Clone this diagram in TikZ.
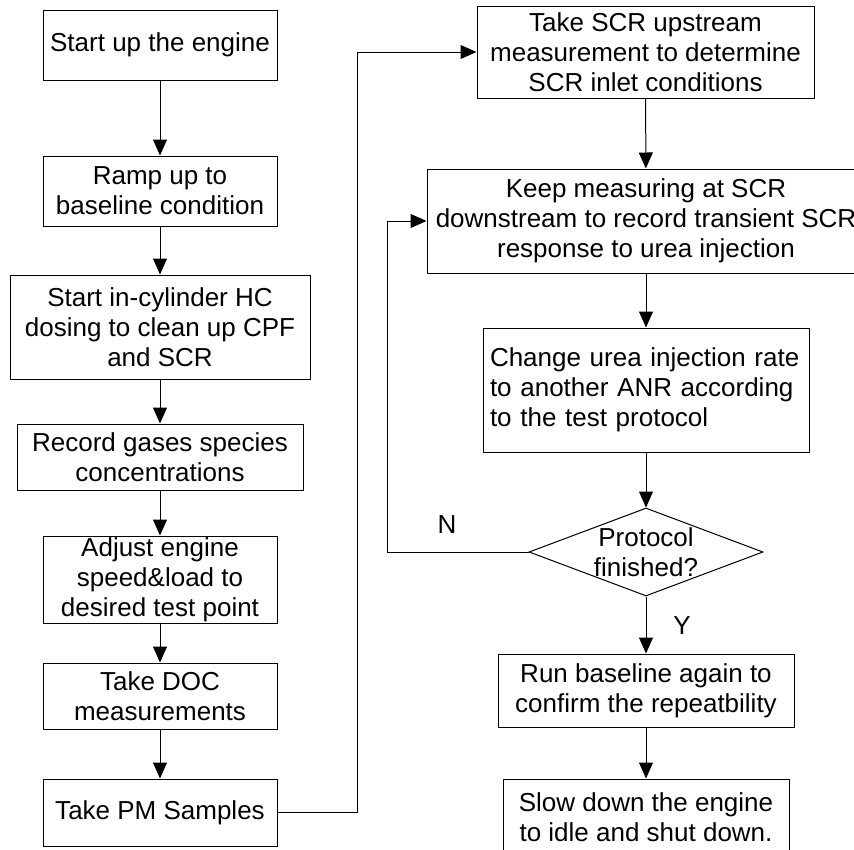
\documentclass[tikz,border=0pt]{standalone}
\usepackage{fontspec}
\setmainfont{Liberation Sans}
\usetikzlibrary{arrows.meta,shapes.geometric}

\begin{document}
\begin{tikzpicture}[x=1pt,y=-1pt,>={Triangle[length=16pt,width=14pt]},
  stepbox/.style={draw,line width=1pt,inner sep=0pt,align=center,font=\fontsize{26}{30}\selectfont},
  lbl/.style={font=\fontsize{26}{30}\selectfont,inner sep=0pt},
  flow/.style={->,line width=1pt}]
\useasboundingbox (0,0) rectangle (854,849);
% left column
\node[stepbox,minimum width=234pt,minimum height=70pt] (engine) at (160,45) {Start up the engine};
\node[stepbox,minimum width=234pt,minimum height=70pt] (ramp) at (160,191) {Ramp up to\\baseline condition};
\node[stepbox,minimum width=300pt,minimum height=104pt] (dosing) at (160,327) {Start in-cylinder HC\\dosing to clean up CPF\\and SCR};
\node[stepbox,minimum width=286pt,minimum height=66pt] (gases) at (160,457) {Record gases species\\concentrations};
\node[stepbox,minimum width=234pt,minimum height=87pt] (adjust) at (160,579.5) {Adjust engine\\speed\&load to\\desired test point};
\node[stepbox,minimum width=234pt,minimum height=66pt] (doc) at (160,696) {Take DOC\\measurements};
\node[stepbox,minimum width=234pt,minimum height=67pt] (pm) at (160,812.5) {Take PM Samples};
% right column
\node[stepbox,minimum width=337pt,minimum height=92pt] (upstream) at (645.5,52) {Take SCR upstream\\measurement to determine\\SCR inlet conditions};
\node[stepbox,minimum width=438pt,minimum height=104pt] (downstream) at (646,221) {Keep measuring at SCR\\downstream to record transient SCR\\response to urea injection};
\node[stepbox,align=left,text width=312pt,inner xsep=7pt,minimum height=124pt] (rate) at (646,390) {Change urea injection rate\\to another ANR according\\to the test protocol};
\node[draw,diamond,line width=1pt,minimum width=234pt,minimum height=88pt,inner sep=0pt,
  label={[lbl,align=center]center:Protocol\\finished?}] (done) at (646,552) {};
\node[stepbox,minimum width=296pt,minimum height=73pt] (again) at (646,690.5) {Run baseline again to\\confirm the repeatbility};
\node[stepbox,minimum width=286pt,minimum height=76pt] (idle) at (646,817) {Slow down the engine\\to idle and shut down.};
\node[lbl] (no) at (447,525) {N};
\node[lbl] (yes) at (682,626) {Y};
% connectors
\draw[flow] (engine) -- (ramp);
\draw[flow] (ramp) -- (dosing);
\draw[flow] (dosing) -- (gases);
\draw[flow] (gases) -- (adjust);
\draw[flow] (adjust) -- (doc);
\draw[flow] (doc) -- (pm);
\draw[flow] (pm.east) -- ++(80,0) |- (upstream.west);
\draw[flow] (upstream) -- (downstream);
\draw[flow] (downstream) -- (rate);
\draw[flow] (rate) -- (done);
\draw[flow] (done) -- (again);
\draw[flow] (again) -- (idle);
\draw[flow] (done.west) -- ++(-141,0) |- (downstream.west);
\end{tikzpicture}
\end{document}
